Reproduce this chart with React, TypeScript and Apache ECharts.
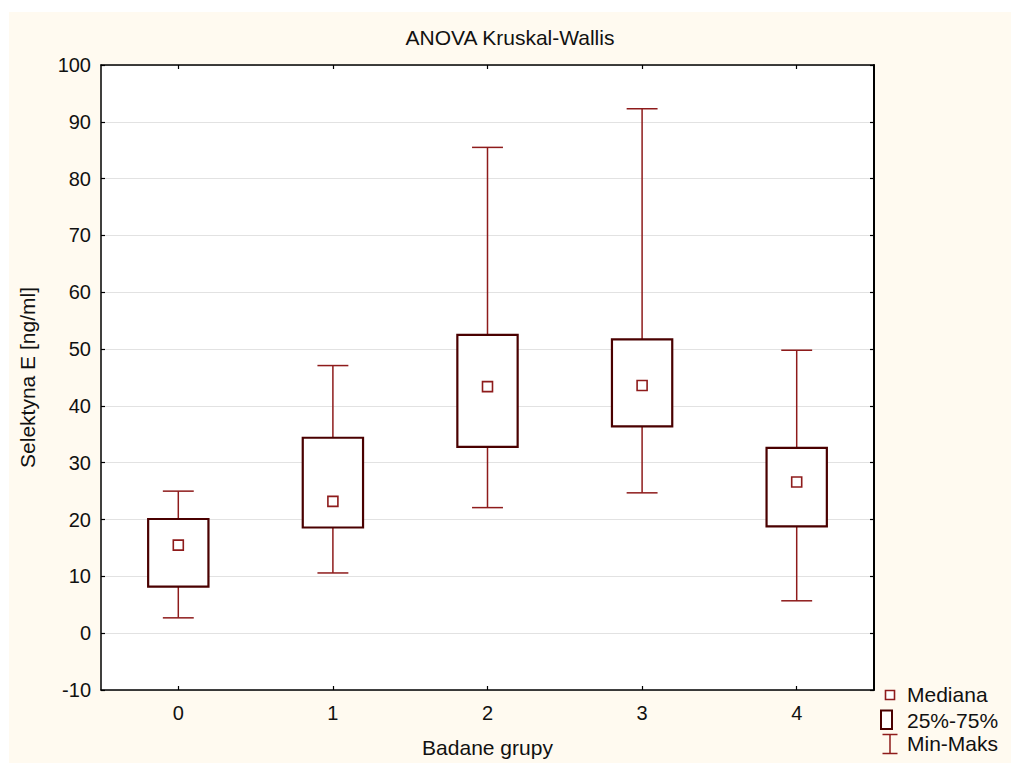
import React, { useEffect, useRef } from "react";
import * as echarts from "echarts";

// Group labels and per-group summary statistics (Selektyna E, ng/ml)
const groups = ["0", "1", "2", "3", "4"];
const minVals = [2.7, 10.6, 22.1, 24.7, 5.7];
const q1Vals = [8.2, 18.6, 32.8, 36.4, 18.8];
const medianVals = [15.5, 23.2, 43.4, 43.6, 26.6];
const q3Vals = [20.1, 34.4, 52.5, 51.7, 32.6];
const maxVals = [25.0, 47.1, 85.5, 92.3, 49.8];

const legendLabels = ["Mediana", "25%-75%", "Min-Maks"];
const titleText = "ANOVA Kruskal-Wallis";
const xName = "Badane grupy";
const yName = "Selektyna E [ng/ml]";

const FONT = "'Liberation Sans', Arial, sans-serif";
const BOX_COLOR = "#4a0000";
const WHISKER_COLOR = "#8e1b1b";
const BG = "#fffaf0";

export default function App() {
  const ref = useRef<HTMLDivElement>(null);

  useEffect(() => {
    if (!ref.current) return;
    const chart = echarts.init(ref.current, undefined, { renderer: "svg" });

    const data = groups.map((_, i) => [
      i,
      minVals[i],
      q1Vals[i],
      medianVals[i],
      q3Vals[i],
      maxVals[i],
    ]);

    const renderItem = (params: any, api: any) => {
      const x = api.value(0);
      const pMin = api.coord([x, api.value(1)]);
      const pQ1 = api.coord([x, api.value(2)]);
      const pMed = api.coord([x, api.value(3)]);
      const pQ3 = api.coord([x, api.value(4)]);
      const pMax = api.coord([x, api.value(5)]);
      const band = api.size([1, 0])[0];
      const bw = band * 0.39;
      const cw = band * 0.2;
      const cx = pMed[0];
      const ms = 10;
      const wStyle = { stroke: WHISKER_COLOR, lineWidth: 1.5 };
      return {
        type: "group",
        children: [
          { type: "line", shape: { x1: cx, y1: pQ3[1], x2: cx, y2: pMax[1] }, style: wStyle },
          { type: "line", shape: { x1: cx - cw / 2, y1: pMax[1], x2: cx + cw / 2, y2: pMax[1] }, style: wStyle },
          { type: "line", shape: { x1: cx, y1: pQ1[1], x2: cx, y2: pMin[1] }, style: wStyle },
          { type: "line", shape: { x1: cx - cw / 2, y1: pMin[1], x2: cx + cw / 2, y2: pMin[1] }, style: wStyle },
          {
            type: "rect",
            shape: { x: cx - bw / 2, y: pQ3[1], width: bw, height: pQ1[1] - pQ3[1] },
            style: { fill: "#ffffff", stroke: BOX_COLOR, lineWidth: 2.2 },
          },
          {
            type: "rect",
            shape: { x: cx - ms / 2, y: pMed[1] - ms / 2, width: ms, height: ms },
            style: { fill: "#ffffff", stroke: WHISKER_COLOR, lineWidth: 1.6 },
          },
        ],
      };
    };

    const axisLine = { show: true, onZero: false, lineStyle: { color: "#000", width: 1.5 } };
    const axisTick = { show: true, inside: true, length: 4, lineStyle: { color: "#000", width: 1.2 } };

    // Legend entries drawn beside the plot, lower right
    const lx = 881;
    const tx = 898;
    const legend: any[] = [
      {
        type: "rect",
        shape: { x: lx - 4.5, y: 678.5, width: 9, height: 9 },
        style: { fill: "#fff", stroke: WHISKER_COLOR, lineWidth: 1.6 },
      },
      {
        type: "rect",
        shape: { x: lx - 9, y: 698.5, width: 11, height: 18.5 },
        style: { fill: "#fff", stroke: BOX_COLOR, lineWidth: 2 },
      },
      { type: "line", shape: { x1: lx, y1: 722.5, x2: lx, y2: 741.5 }, style: { stroke: WHISKER_COLOR, lineWidth: 1.5 } },
      { type: "line", shape: { x1: lx - 7.5, y1: 722.5, x2: lx + 7.5, y2: 722.5 }, style: { stroke: WHISKER_COLOR, lineWidth: 1.5 } },
      { type: "line", shape: { x1: lx - 7.5, y1: 741.5, x2: lx + 7.5, y2: 741.5 }, style: { stroke: WHISKER_COLOR, lineWidth: 1.5 } },
      ...legendLabels.map((t, i) => ({
        type: "text",
        x: tx,
        y: [682, 708, 731][i],
        style: { text: t, fill: "#111", font: `21px ${FONT}`, textAlign: "left", textVerticalAlign: "middle" },
      })),
      {
        type: "text",
        x: 501,
        y: 25,
        style: { text: titleText, fill: "#111", font: `21px ${FONT}`, textAlign: "center", textVerticalAlign: "middle" },
      },
    ];

    chart.setOption({
      animation: false,
      backgroundColor: BG,
      textStyle: { fontFamily: FONT },
      grid: { left: 90, top: 53, right: 137, bottom: 73, backgroundColor: "#ffffff", show: true, borderWidth: 0 },
      xAxis: [
        {
          type: "category",
          data: groups,
          position: "bottom",
          boundaryGap: true,
          axisLine,
          axisTick: { ...axisTick, alignWithLabel: true },
          axisLabel: { color: "#111", fontSize: 20, margin: 13, fontFamily: FONT },
          name: xName,
          nameLocation: "middle",
          nameGap: 47,
          nameTextStyle: { color: "#111", fontSize: 21, fontFamily: FONT },
          splitLine: { show: false },
        },
        {
          type: "category",
          data: groups,
          position: "top",
          boundaryGap: true,
          axisLine,
          axisTick: { ...axisTick, alignWithLabel: true },
          axisLabel: { show: false },
          splitLine: { show: false },
        },
      ],
      yAxis: [
        {
          type: "value",
          min: -10,
          max: 100,
          interval: 10,
          position: "left",
          axisLine,
          axisTick,
          axisLabel: { color: "#111", fontSize: 20, margin: 10, fontFamily: FONT },
          splitLine: { show: true, lineStyle: { color: "#e2e2e2", width: 1 } },
          name: yName,
          nameLocation: "middle",
          nameGap: 63,
          nameTextStyle: { color: "#111", fontSize: 21, fontFamily: FONT },
        },
        {
          type: "value",
          min: -10,
          max: 100,
          interval: 10,
          position: "right",
          axisLine: { show: true, onZero: false, lineStyle: { color: "#000", width: 2 } },
          axisTick,
          axisLabel: { show: false },
          splitLine: { show: false },
        },
      ],
      series: [
        {
          type: "custom",
          renderItem,
          data,
          encode: { x: 0, y: [1, 2, 3, 4, 5] },
          xAxisIndex: 0,
          yAxisIndex: 0,
          z: 10,
        },
      ],
      graphic: legend,
    });

    return () => chart.dispose();
  }, []);

  return (
    <div
      ref={ref}
      style={{ position: "absolute", left: 9, top: 12, width: 1002, height: 751 }}
    />
  );
}
